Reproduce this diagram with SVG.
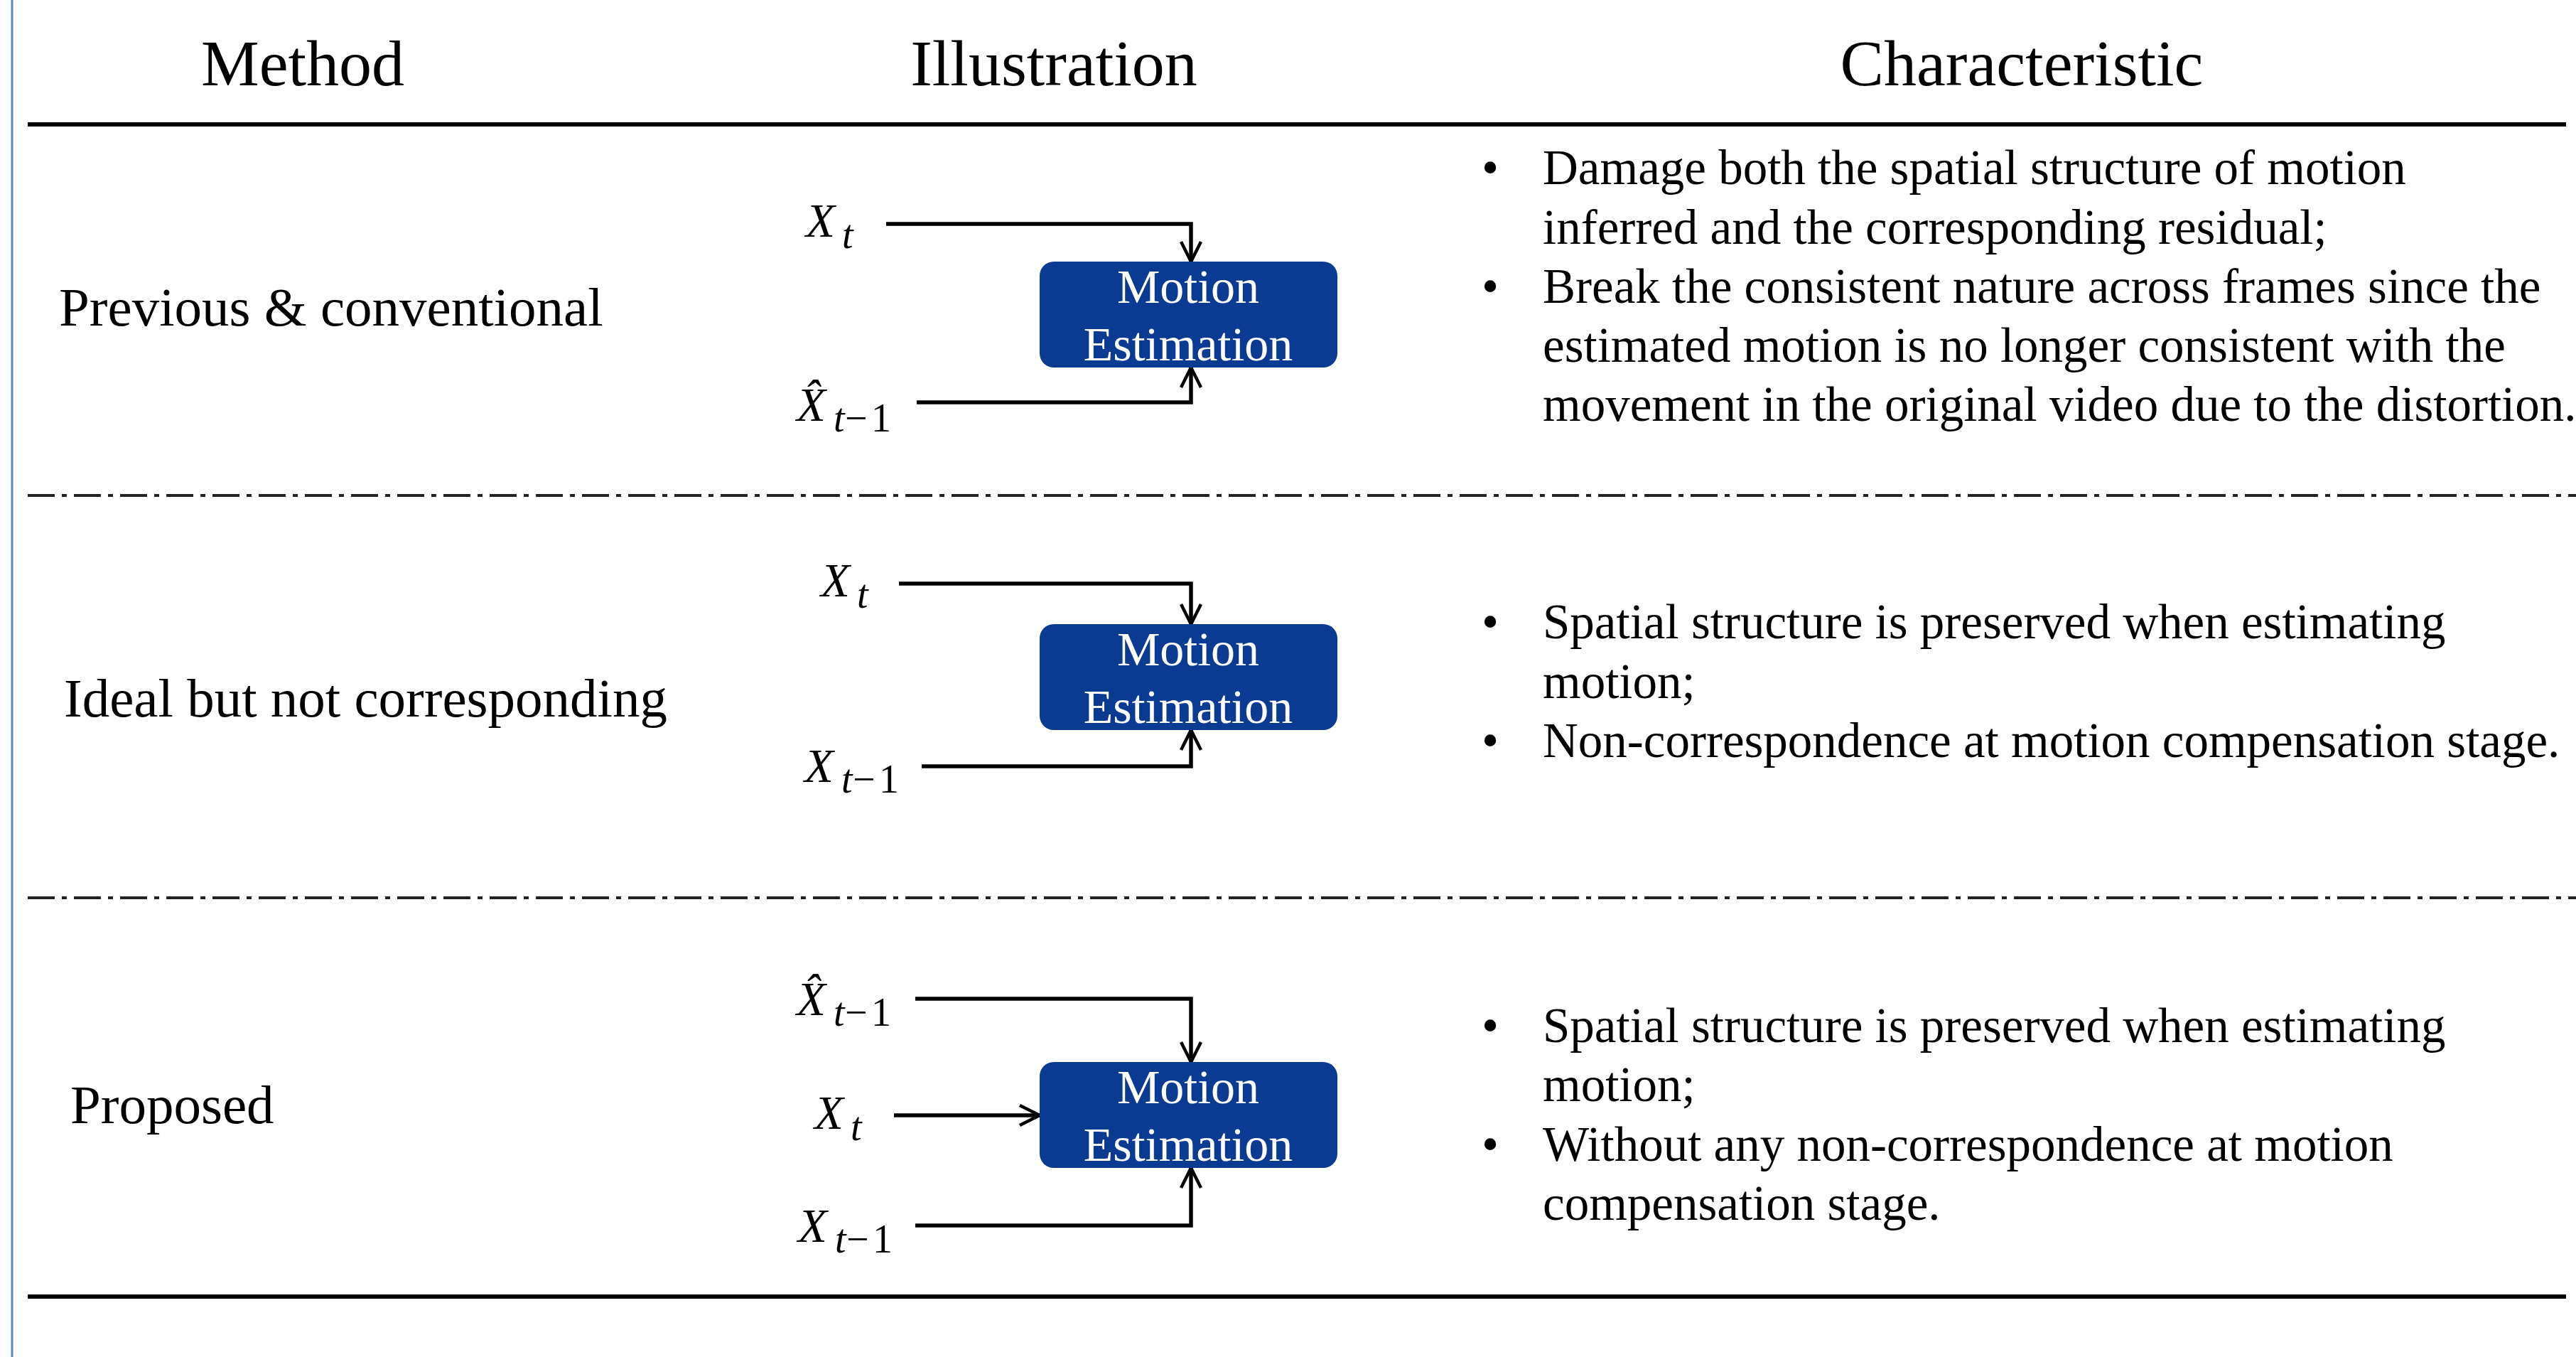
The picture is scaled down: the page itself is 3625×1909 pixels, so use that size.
<svg xmlns="http://www.w3.org/2000/svg" width="3625" height="1909" viewBox="0 0 3625 1909">
<style>
.hdr{font-family:"Liberation Serif","Times New Roman",serif;font-size:92px;fill:#000;text-anchor:middle}
.lbl{font-family:"Liberation Serif","Times New Roman",serif;font-size:77px;fill:#000}
.txt{font-family:"Liberation Serif","Times New Roman",serif;font-size:69px;fill:#000}
.box{fill:#0b3a92}
.btxt{font-family:"Liberation Serif","Times New Roman",serif;font-size:68px;fill:#fff;text-anchor:middle}
.mx{font-family:"Liberation Serif","Times New Roman",serif;font-size:67px;font-style:italic;fill:#000}
.s{font-size:56px}
.up{font-style:normal}
.conn{fill:none;stroke:#000;stroke-width:5.5}
.rule{stroke:#000;stroke-width:6}
.dd{stroke:#222;stroke-width:4;stroke-dasharray:38 10 7 10}
</style>
<defs>
<marker id="arr" viewBox="0 0 32 32" refX="30" refY="16" markerWidth="32" markerHeight="32" markerUnits="userSpaceOnUse" orient="auto">
<path d="M2,2 L30,16 L2,30" fill="none" stroke="#000" stroke-width="4.5"/>
</marker>
</defs>
<rect width="3625" height="1909" fill="#fff"/>
<line x1="17" y1="0" x2="17" y2="1909" stroke="#5b86c9" stroke-width="3"/>
<g id="table">
<line class="rule" x1="39" y1="175" x2="3611" y2="175"/>
<line class="dd" x1="39" y1="697" x2="3625" y2="697"/>
<line class="dd" x1="39" y1="1263" x2="3625" y2="1263"/>
<line class="rule" x1="39" y1="1824" x2="3611" y2="1824"/>
</g>
<g id="headers">
<text class="hdr" x="426" y="120">Method</text>
<text class="hdr" x="1483" y="120">Illustration</text>
<text class="hdr" x="2845" y="120">Characteristic</text>
</g>
<g id="methods">
<text class="lbl" x="83" y="458">Previous &amp; conventional</text>
<text class="lbl" x="90" y="1008">Ideal but not corresponding</text>
<text class="lbl" x="99" y="1580">Proposed</text>
</g>
<g id="connectors">
<path class="conn" d="M1247,315 H1676 V368" marker-end="url(#arr)"/>
<path class="conn" d="M1290,566 H1676 V517" marker-end="url(#arr)"/>
<path class="conn" d="M1265,821 H1676 V878" marker-end="url(#arr)"/>
<path class="conn" d="M1297,1078 H1676 V1027" marker-end="url(#arr)"/>
<path class="conn" d="M1288,1405 H1676 V1494" marker-end="url(#arr)"/>
<path class="conn" d="M1258,1569 H1463" marker-end="url(#arr)"/>
<path class="conn" d="M1288,1724 H1676 V1643" marker-end="url(#arr)"/>
</g>
<g id="me1">
<rect class="box" x="1463" y="368" width="419" height="149" rx="20"/>
<text class="btxt" x="1672" y="426">Motion</text>
<text class="btxt" x="1672" y="507">Estimation</text>
</g>
<g id="me2">
<rect class="box" x="1463" y="878" width="419" height="149" rx="20"/>
<text class="btxt" x="1672" y="936">Motion</text>
<text class="btxt" x="1672" y="1017">Estimation</text>
</g>
<g id="me3">
<rect class="box" x="1463" y="1494" width="419" height="149" rx="20"/>
<text class="btxt" x="1672" y="1552">Motion</text>
<text class="btxt" x="1672" y="1633">Estimation</text>
</g>
<g id="labels1">
<text class="mx"><tspan x="1134" y="333">X</tspan><tspan class="s" x="1185" y="349">t</tspan></text>
<text class="mx"><tspan x="1121" y="592">X&#x302;</tspan><tspan class="s" x="1173" y="607">t</tspan><tspan class="s up" x="1189" y="607">−</tspan><tspan class="s up" x="1226" y="607">1</tspan></text>
</g>
<g id="labels2">
<text class="mx"><tspan x="1155" y="839">X</tspan><tspan class="s" x="1206" y="855">t</tspan></text>
<text class="mx"><tspan x="1132" y="1100">X</tspan><tspan class="s" x="1184" y="1115">t</tspan><tspan class="s up" x="1200" y="1115">−</tspan><tspan class="s up" x="1237" y="1115">1</tspan></text>
</g>
<g id="labels3">
<text class="mx"><tspan x="1121" y="1428">X&#x302;</tspan><tspan class="s" x="1173" y="1443">t</tspan><tspan class="s up" x="1189" y="1443">−</tspan><tspan class="s up" x="1226" y="1443">1</tspan></text>
<text class="mx"><tspan x="1146" y="1588">X</tspan><tspan class="s" x="1197" y="1604">t</tspan></text>
<text class="mx"><tspan x="1123" y="1747">X</tspan><tspan class="s" x="1175" y="1762">t</tspan><tspan class="s up" x="1191" y="1762">−</tspan><tspan class="s up" x="1228" y="1762">1</tspan></text>
</g>
<g id="char1">
<text class="txt" x="2085" y="259">•</text>
<text class="txt" x="2171" y="259">Damage both the spatial structure of motion</text>
<text class="txt" x="2171" y="343">inferred and the corresponding residual;</text>
<text class="txt" x="2085" y="426">•</text>
<text class="txt" x="2171" y="426">Break the consistent nature across frames since the</text>
<text class="txt" x="2171" y="509">estimated motion is no longer consistent with the</text>
<text class="txt" x="2171" y="592">movement in the original video due to the distortion.</text>
</g>
<g id="char2">
<text class="txt" x="2085" y="898">•</text>
<text class="txt" x="2171" y="898">Spatial structure is preserved when estimating</text>
<text class="txt" x="2171" y="982">motion;</text>
<text class="txt" x="2085" y="1065">•</text>
<text class="txt" x="2171" y="1065">Non-correspondence at motion compensation stage.</text>
</g>
<g id="char3">
<text class="txt" x="2085" y="1466">•</text>
<text class="txt" x="2171" y="1466">Spatial structure is preserved when estimating</text>
<text class="txt" x="2171" y="1549">motion;</text>
<text class="txt" x="2085" y="1633">•</text>
<text class="txt" x="2171" y="1633">Without any non-correspondence at motion</text>
<text class="txt" x="2171" y="1716">compensation stage.</text>
</g>
</svg>
